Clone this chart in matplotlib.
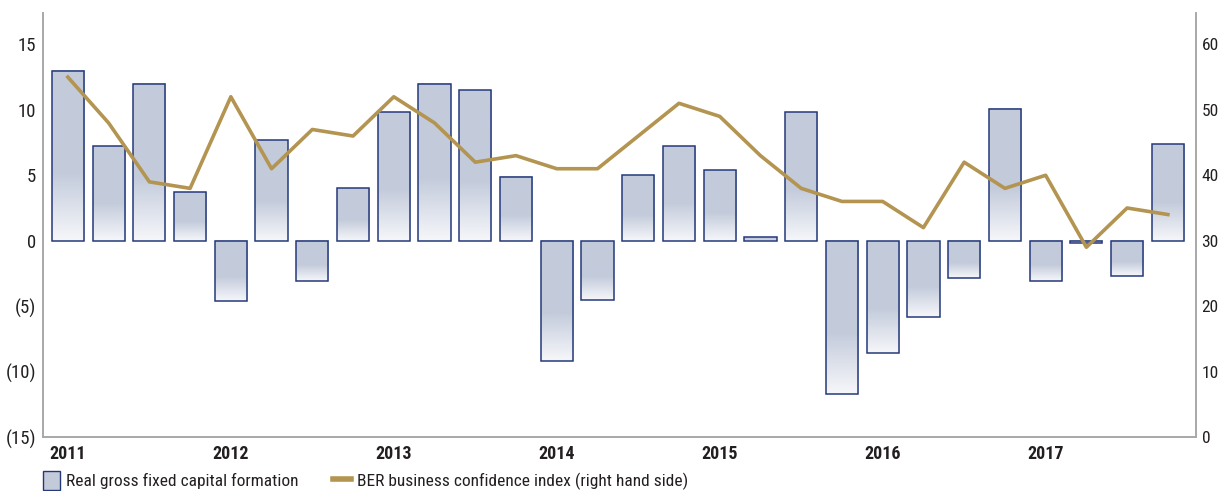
import numpy as np
import matplotlib
matplotlib.use("Agg")
import matplotlib.pyplot as plt
from matplotlib.colors import LinearSegmentedColormap
from matplotlib.patches import Patch
from matplotlib.lines import Line2D

plt.rcParams['font.family'] = ['Roboto Condensed', 'Archivo Narrow', 'Liberation Sans', 'DejaVu Sans']

years = ["2011", "2012", "2013", "2014", "2015", "2016", "2017"]
gfcf = [13.0, 7.2, 12.0, 3.7, -4.6, 7.7, -3.1, 4.0, 9.8, 12.0, 11.5, 4.9,
        -9.2, -4.5, 5.0, 7.2, 5.4, 0.3, 9.8, -11.7, -8.55, -5.8, -2.85, 10.1,
        -3.1, -0.2, -2.7, 7.4]
ber = [55, 48, 39, 38, 52, 41, 47, 46, 52, 48, 42, 43, 41, 41, 46, 51, 49,
       43, 38, 36, 36, 32, 42, 38, 40, 29, 35, 34]
left_ticks = [-15, -10, -5, 0, 5, 10, 15]
right_ticks = [0, 10, 20, 30, 40, 50, 60]

bar_fill = "#c3cbdb"
bar_edge = "#25397a"
line_col = "#b39450"
spine_col = "#a8a8a8"
text_col = "#231f20"

fig = plt.figure(figsize=(12.22, 4.91), dpi=100)
ax = fig.add_axes([0.0352, 0.110, 0.9435, 0.8635])
ax2 = ax.twinx()

x = np.arange(len(gfcf))
width = 0.79
cmap = LinearSegmentedColormap.from_list(
    "g", [(0.0, "#f6f7fa"), (0.4, bar_fill), (1.0, bar_fill)])
grad = np.linspace(0, 1, 256).reshape(-1, 1)

ax.bar(x, gfcf, width=width, facecolor="none", edgecolor=bar_edge,
       linewidth=1.1, zorder=3)
for xi, v in zip(x, gfcf):
    lo, hi = min(0, v), max(0, v)
    ax.imshow(grad, cmap=cmap, origin="lower", aspect="auto",
              extent=(xi - width / 2, xi + width / 2, lo, hi), zorder=2,
              interpolation="bilinear")

ax.set_xlim(-0.61, 27.69)
ax.set_ylim(-15, 17.4)
ax.set_yticks(left_ticks)
ax.set_yticklabels([f"({-t})" if t < 0 else str(t) for t in left_ticks])
ax.set_xticks(np.arange(0, 28, 4))
ax.set_xticklabels(years, fontweight="bold")
ax.tick_params(axis="x", length=0, pad=6, labelsize=13, labelcolor=text_col)
ax.tick_params(axis="y", length=0, pad=5, labelsize=13.5, labelcolor=text_col)

ax2.plot(x, ber, color=line_col, linewidth=2.6, zorder=4)
ax2.set_ylim(0, 64.8)
ax2.set_yticks(right_ticks)
ax2.tick_params(axis="y", length=0, pad=4, labelsize=12.5, labelcolor=text_col)

for a in (ax, ax2):
    a.spines["top"].set_visible(False)
    for s in ("left", "right", "bottom"):
        a.spines[s].set_color(spine_col)
        a.spines[s].set_linewidth(1.2)

handles = [Patch(facecolor=bar_fill, edgecolor=bar_edge, linewidth=1.0),
           Line2D([0], [0], color=line_col, linewidth=4)]
labels = ["Real gross fixed capital formation",
          "BER business confidence index (right hand side)"]
fig.legend(handles, labels, loc="lower left", bbox_to_anchor=(0.022, -0.03),
           ncol=2, frameon=False, fontsize=12.5, handlelength=1.0,
           handleheight=1.3, columnspacing=2.0, handletextpad=0.35,
           labelcolor=text_col)

fig.savefig("out.png", dpi=100)
